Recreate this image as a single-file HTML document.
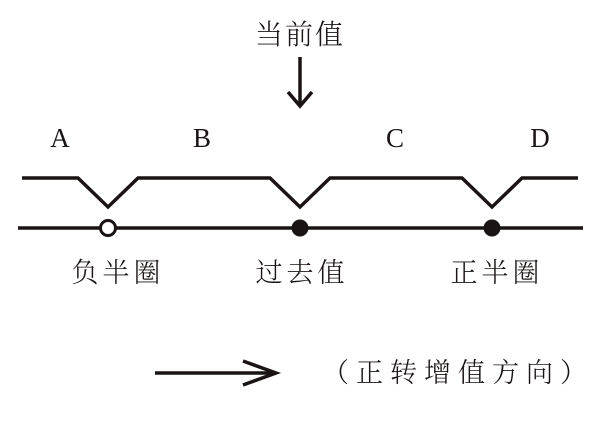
<!DOCTYPE html>
<html><head><meta charset="utf-8"><style>
body{margin:0;background:#fff;width:606px;height:425px;overflow:hidden}
text{font-family:"Liberation Serif","Noto Serif CJK SC",serif;fill:#1a1414}
.c{font-family:"Liberation Serif","Noto Serif CJK SC",serif;font-weight:300}
</style></head><body>
<svg width="606" height="425" viewBox="0 0 606 425">
<g stroke="#1a1414" stroke-width="3.5" fill="none">
<polyline points="22,178 78,178 108,207 138,178 270,178 300,207 330,178 462,178 492,207 522,178 578,178"/>
<line x1="18" y1="228" x2="583" y2="228"/>
<line x1="300" y1="57" x2="300" y2="106"/>
<polyline points="288,92 300,106 312,92"/>
<line x1="155" y1="373" x2="276" y2="373"/>
<polyline points="243,361 276,373 243,385"/>
</g>
<circle cx="108" cy="228" r="7.5" fill="#fff" stroke="#1a1414" stroke-width="3"/>
<circle cx="300" cy="228" r="8.5" fill="#1a1414"/>
<circle cx="492" cy="228" r="8.5" fill="#1a1414"/>
<text x="60" y="147" font-size="27" text-anchor="middle">A</text>
<text x="202" y="147" font-size="27" text-anchor="middle">B</text>
<text x="395" y="147" font-size="27" text-anchor="middle">C</text>
<text x="540" y="147" font-size="27" text-anchor="middle">D</text>
<text class="c" x="300" y="44" font-size="28" text-anchor="middle" letter-spacing="2">当前值</text>
<text class="c" x="118" y="282" font-size="27" text-anchor="middle" letter-spacing="4">负半圈</text>
<text class="c" x="302" y="282" font-size="27" text-anchor="middle" letter-spacing="4">过去值</text>
<text class="c" x="497" y="282" font-size="27" text-anchor="middle" letter-spacing="4">正半圈</text>
<text class="c" x="322" y="382" font-size="27" letter-spacing="7">（正转增值方向）</text>
</svg>
</body></html>
